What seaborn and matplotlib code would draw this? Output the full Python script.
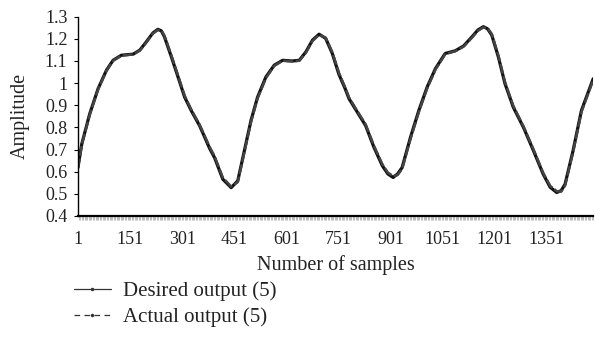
import matplotlib
matplotlib.use("Agg")
import matplotlib.pyplot as plt
from matplotlib.lines import Line2D
from matplotlib.ticker import MultipleLocator, FixedLocator
import seaborn as sns
import pandas as pd

sns.set_theme(style="white")
plt.rcParams['font.family'] = ['Liberation Serif', 'DejaVu Serif']

samples = [1, 12, 35, 59, 83, 102, 126, 160, 179, 198,
           217, 231, 241, 250, 270, 289, 308, 327, 351, 366,
           380, 394, 418, 442, 461, 480, 499, 518, 542, 566,
           590, 618, 638, 657, 676, 695, 714, 733, 752, 770,
           781, 805, 829, 853, 877, 893, 908, 921, 934, 958,
           982, 1006, 1030, 1058, 1087, 1111, 1135, 1152, 1168, 1180,
           1192, 1211, 1230, 1254, 1283, 1312, 1340, 1360, 1379, 1392,
           1403, 1426, 1450, 1484]

desired = [0.619, 0.725, 0.862, 0.975, 1.058, 1.103, 1.126, 1.131, 1.149, 1.187,
           1.227, 1.243, 1.236, 1.209, 1.118, 1.028, 0.937, 0.876, 0.808, 0.755,
           0.705, 0.664, 0.566, 0.528, 0.559, 0.695, 0.831, 0.937, 1.028, 1.081,
           1.103, 1.100, 1.103, 1.141, 1.194, 1.221, 1.202, 1.134, 1.040, 0.975,
           0.930, 0.869, 0.808, 0.710, 0.627, 0.590, 0.574, 0.590, 0.619, 0.755,
           0.876, 0.982, 1.066, 1.134, 1.146, 1.168, 1.209, 1.240, 1.255, 1.245,
           1.217, 1.118, 0.998, 0.891, 0.801, 0.695, 0.589, 0.530, 0.506, 0.515,
           0.544, 0.695, 0.876, 1.020]

actual = [0.616, 0.721, 0.858, 0.972, 1.055, 1.101, 1.124, 1.130, 1.147, 1.184,
          1.224, 1.240, 1.238, 1.214, 1.125, 1.035, 0.944, 0.881, 0.813, 0.761,
          0.712, 0.671, 0.573, 0.533, 0.553, 0.688, 0.824, 0.931, 1.023, 1.078,
          1.101, 1.098, 1.101, 1.137, 1.190, 1.218, 1.205, 1.140, 1.047, 0.981,
          0.936, 0.874, 0.814, 0.717, 0.634, 0.596, 0.580, 0.585, 0.612, 0.747,
          0.869, 0.976, 1.061, 1.131, 1.144, 1.165, 1.205, 1.236, 1.252, 1.248,
          1.222, 1.125, 1.005, 0.897, 0.806, 0.701, 0.595, 0.536, 0.512, 0.510,
          0.537, 0.688, 0.869, 1.014]

xtick_values = [1, 151, 301, 451, 601, 751, 901, 1051, 1201, 1351]
ytick_values = [0.4, 0.5, 0.6, 0.7, 0.8, 0.9, 1.0, 1.1, 1.2, 1.3]
ytick_labels = ["0.4", "0.5", "0.6", "0.7", "0.8", "0.9", "1", "1.1", "1.2", "1.3"]

df = pd.DataFrame({"sample": samples, "desired": desired, "actual": actual})

fig = plt.figure(figsize=(5.95, 3.52), dpi=100)
ax = fig.add_axes([0.131, 0.3864, 0.866, 0.5662])

sns.lineplot(data=df, x="sample", y="desired", ax=ax, color="#111111",
             linewidth=2.3, linestyle="-")
sns.lineplot(data=df, x="sample", y="actual", ax=ax, color="#444444",
             linewidth=1.8, linestyle=(0, (4, 1)))

ax.set_xlim(1, 1484)
ax.set_ylim(0.4, 1.3)
ax.xaxis.set_major_locator(FixedLocator(xtick_values))
ax.xaxis.set_minor_locator(MultipleLocator(4))
ax.set_xticks(xtick_values)
ax.set_xticklabels([str(v) for v in xtick_values])
ax.set_yticks(ytick_values)
ax.set_yticklabels(ytick_labels)

ax.tick_params(axis='x', which='major', length=3, width=0.5, color='#666666',
               direction='out', pad=8, labelsize=13, labelcolor='#222222')
ax.tick_params(axis='x', which='minor', length=3, width=0.4, color='#888888',
               direction='out', bottom=True)
ax.tick_params(axis='y', which='major', length=3, width=0.8, color='black',
               direction='out', pad=4.5, labelsize=13,
               labelcolor='#222222', left=True)

for side in ['top', 'right']:
    ax.spines[side].set_visible(False)
ax.spines['left'].set_color('black')
ax.spines['left'].set_linewidth(1.0)
ax.spines['bottom'].set_color('black')
ax.spines['bottom'].set_linewidth(1.6)

ax.set_xlabel("Number of samples", fontsize=14.5, color='#222222', labelpad=5)
ax.set_ylabel("Amplitude", fontsize=14.5, color='#222222', labelpad=11)
ax.grid(False)

handles = [
    Line2D([], [], color='#333333', linewidth=0.9, linestyle='-',
           marker='.', markersize=3),
    Line2D([], [], color='#333333', linewidth=0.9, linestyle=(0, (4.5, 3.5)),
           marker='.', markersize=3),
]
fig.legend(handles, ["Desired output (5)", "Actual output (5)"],
           loc='upper left', bbox_to_anchor=(0.1245, 0.1997),
           frameon=False, borderpad=0, borderaxespad=0,
           handlelength=1.75, handletextpad=0.62, labelspacing=0.28,
           prop={'size': 15}, labelcolor='#222222')

fig.savefig("out.png", dpi=100, facecolor='white')
